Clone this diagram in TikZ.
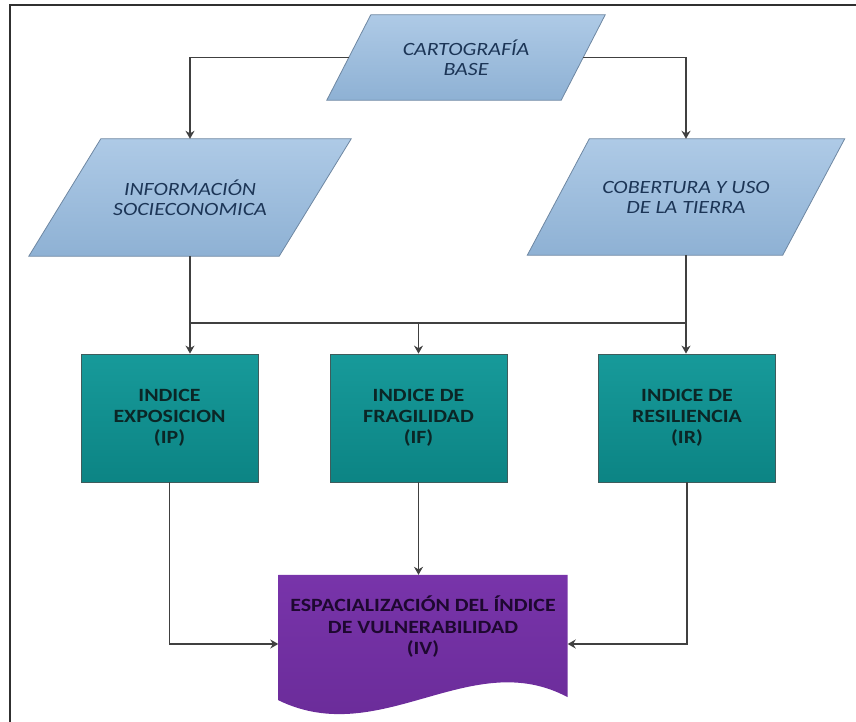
\documentclass[tikz,border=0pt]{standalone}
\usepackage{fontspec}
\setmainfont{Carlito}[FakeStretch=1.17]
\usetikzlibrary{arrows.meta,backgrounds}

\definecolor{paraTop}{HTML}{AECAE6}
\definecolor{paraBot}{HTML}{8EB1D4}
\definecolor{paraEdge}{HTML}{6E87A2}
\definecolor{paraText}{HTML}{1C3556}
\definecolor{tealTop}{HTML}{179A9A}
\definecolor{tealBot}{HTML}{0C8484}
\definecolor{tealEdge}{HTML}{3E5C5C}
\definecolor{tealText}{HTML}{0B2626}
\definecolor{purpTop}{HTML}{7834AA}
\definecolor{purpBot}{HTML}{682A96}
\definecolor{purpText}{HTML}{1E0830}
\definecolor{wireGray}{HTML}{404040}
\definecolor{frameGray}{HTML}{303030}

\begin{document}
\begin{tikzpicture}[x=1pt, y=1pt,
  >={Stealth[length=8pt,width=9pt]},
  wire/.style={draw=wireGray, line width=1.3pt},
  dato/.style={rectangle, inner sep=0pt, text=paraText, align=center,
    font=\fontsize{18.7}{20}\selectfont\itshape},
  datoshape/.style={draw=paraEdge, line width=0.8pt, top color=paraTop, bottom color=paraBot},
  indice/.style={rectangle, draw=tealEdge, line width=0.8pt,
    top color=tealTop, bottom color=tealBot, text=tealText, align=center,
    minimum width=177pt, minimum height=128pt,
    font=\fontsize{18.7}{21}\selectfont\bfseries},
  docbox/.style={rectangle, inner sep=0pt, minimum width=289pt, minimum height=138pt},
  doctext/.style={text=purpText, align=center, font=\fontsize{18.7}{21.5}\selectfont\bfseries}]
\useasboundingbox (0,0) rectangle (856,-722);
%%%%% Frame %%%%%
\draw[line width=2pt, frameGray] (856,-5) -- (10,-5) -- (10,-722);

%%%%% Inputs %%%%%
\node[dato, minimum width=234pt, minimum height=85pt] (carto) at (466,-57.5) {CARTOGRAFÍA\\BASE};
\node[dato, minimum width=250pt, minimum height=117pt] (info) at (190,-197.5) {INFORMACIÓN\\SOCIECONOMICA};
\node[dato, minimum width=255pt, minimum height=116pt] (cob) at (686,-197) {COBERTURA Y USO\\DE LA TIERRA};
% slanted outlines behind the text
\begin{scope}[on background layer]
\foreach \n/\d in {carto/22,info/36,cob/31}
  \path[datoshape] ([xshift=\d pt]\n.north west) -- ([xshift=\d pt]\n.north east)
    -- ([xshift=-\d pt]\n.south east) -- ([xshift=-\d pt]\n.south west) -- cycle;
\end{scope}

%%%%% Indices %%%%%
\node[indice] (ip) at (169.5,-418) {INDICE\\EXPOSICION\\(IP)};
\node[indice] (if) at (418.5,-418) {INDICE DE\\FRAGILIDAD\\(IF)};
\node[indice] (ir) at (687,-418) {INDICE DE\\RESILIENCIA\\(IR)};

%%%%% Result %%%%%
\node[docbox] (iv) at (423,-644) {};
\path[top color=purpTop, bottom color=purpBot]
  (iv.north west) -- (iv.north east) -- ([yshift=16pt]iv.south east)
  .. controls ([shift={(-97pt,68pt)}]iv.south east) and ([shift={(-187pt,-37pt)}]iv.south east)
  .. ([yshift=13pt]iv.south west) -- cycle;
\node[doctext] (ivlbl) at ([yshift=17pt]iv.center) {ESPACIALIZACIÓN DEL ÍNDICE\\DE VULNERABILIDAD\\(IV)};

%%%%% Connectors %%%%%
\coordinate (bus) at (0,-323);
\draw[wire,->] (carto.west) -| (info.north);
\draw[wire,->] (carto.east) -| (cob.north);
\draw[wire,->] (info.south) -- (info.south |- ip.north);
\draw[wire] (info.south |- bus) -- (cob.south |- bus);
\draw[wire,->] (if.north |- bus) -- (if.north);
\draw[wire,->] (cob.south) -- (cob.south |- ir.north);
\draw[wire,->] (ip.south) |- (iv.west);
\draw[wire,->] (if.south) -- (if.south |- iv.north);
\draw[wire,->] (ir.south) |- (iv.east);
\end{tikzpicture}
\end{document}
